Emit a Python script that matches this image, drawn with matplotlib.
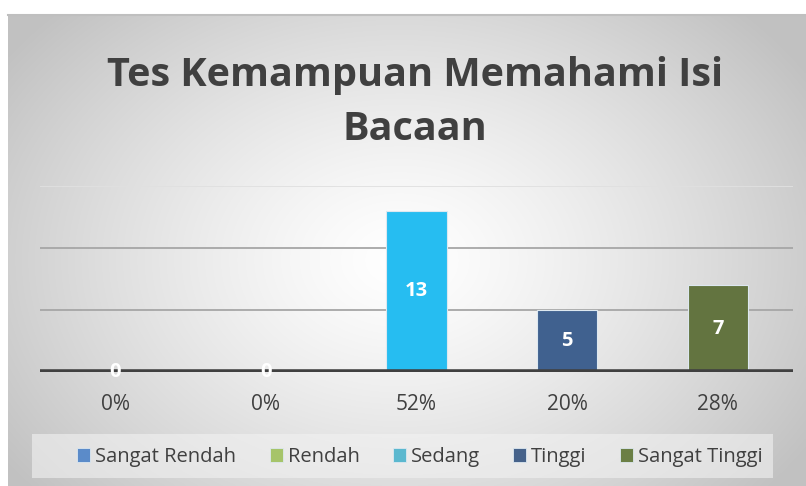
import numpy as np
import matplotlib
matplotlib.use("Agg")
import matplotlib.pyplot as plt
from matplotlib.patches import Rectangle, Patch

categories = ["Sangat Rendah", "Rendah", "Sedang", "Tinggi", "Sangat Tinggi"]
values = [0, 0, 13, 5, 7]
pct_labels = ["0%", "0%", "52%", "20%", "28%"]
bar_colors = ["#5B8BC9", "#A6C46A", "#26BDF1", "#40618F", "#637440"]
legend_colors = ["#5B8BC9", "#A6C46A", "#5BB8CF", "#46628A", "#6B7F45"]
title = "Tes Kemampuan Memahami Isi\nBacaan"

W, H = 806, 486
fig = plt.figure(figsize=(W / 100, H / 100), dpi=100)
fig.patch.set_facecolor("white")

# background gradient panel
bx0, by0 = 8, 15
bg = fig.add_axes([bx0 / W, 0, 1 - bx0 / W, 1 - by0 / H])
bg.set_axis_off()
ny, nx = 300, 500
yy, xx = np.mgrid[0:ny, 0:nx]
cx, cy = nx * 0.49, ny * 0.52
r = np.sqrt(((xx - cx) / (nx * 0.60)) ** 2 + ((yy - cy) / (ny * 0.75)) ** 2)
r = np.clip(r, 0, 1)
val = 1.0 - 0.24 * r ** 1.3
img = np.dstack([val, val, val])
bg.imshow(img, aspect="auto", extent=[0, 1, 0, 1], interpolation="bicubic")
bg.set_xlim(0, 1)
bg.set_ylim(0, 1)
bg.plot([0, 1], [1, 1], color="#BFBFBF", lw=1.5, transform=bg.transAxes, clip_on=False)

# main axes
ax_l, ax_r, ax_b, ax_t = 40, 793, 372, 186
ax = fig.add_axes([ax_l / W, (H - ax_b) / H, (ax_r - ax_l) / W, (ax_b - ax_t) / H])
ax.patch.set_alpha(0)
x = np.arange(len(categories))
ax.set_xlim(-0.5, len(categories) - 0.5)
ax.set_ylim(0, 15)
for g in [5, 10, 15]:
    ax.axhline(g, color="#A6A6A6" if g < 15 else "#E0E0E0", lw=1.3, zorder=1)
bars = ax.bar(x, values, width=0.4, color=bar_colors, edgecolor="#DDE8F0", linewidth=0.8, zorder=2)
ax.axhline(0, color="#404040", lw=4, zorder=3)
for xi, v in zip(x, values):
    ypos = v / 2 if v > 0 else 0
    ax.text(xi, ypos, str(v), ha="center", va="center", color="white",
            fontsize=14.5, fontweight="bold", family="Open Sans", zorder=4)
for s in ax.spines.values():
    s.set_visible(False)
ax.set_yticks([])
ax.set_xticks(x)
ax.set_xticklabels(pct_labels, fontsize=15, color="#404040", family="Open Sans")
ax.tick_params(axis="x", length=0, pad=16)

# title
fig.text(0.515, (H - 102) / H, title, ha="center", va="center", fontsize=28.5,
         fontweight="bold", color="#404040", family="Open Sans", linespacing=1.5)

# legend background
lx0, lx1, ly0, ly1 = 32, 773, 434, 478
fig.patches.append(Rectangle((lx0 / W, (H - ly1) / H), (lx1 - lx0) / W, (ly1 - ly0) / H,
                             transform=fig.transFigure, facecolor="#F2F2F2", alpha=0.6,
                             edgecolor="none", zorder=1))
handles = [Patch(facecolor=c, edgecolor="#DDE8F0", linewidth=0.6) for c in legend_colors]
leg = fig.legend(handles, categories, loc="center", bbox_to_anchor=(420 / W, (H - 457) / H),
                 ncol=5, frameon=False, handlelength=0.65, handleheight=0.65,
                 handletextpad=0.25, columnspacing=1.65, prop={"family": "Open Sans", "size": 14.5})
for t in leg.get_texts():
    t.set_color("#404040")

fig.savefig("out.png", dpi=100)
